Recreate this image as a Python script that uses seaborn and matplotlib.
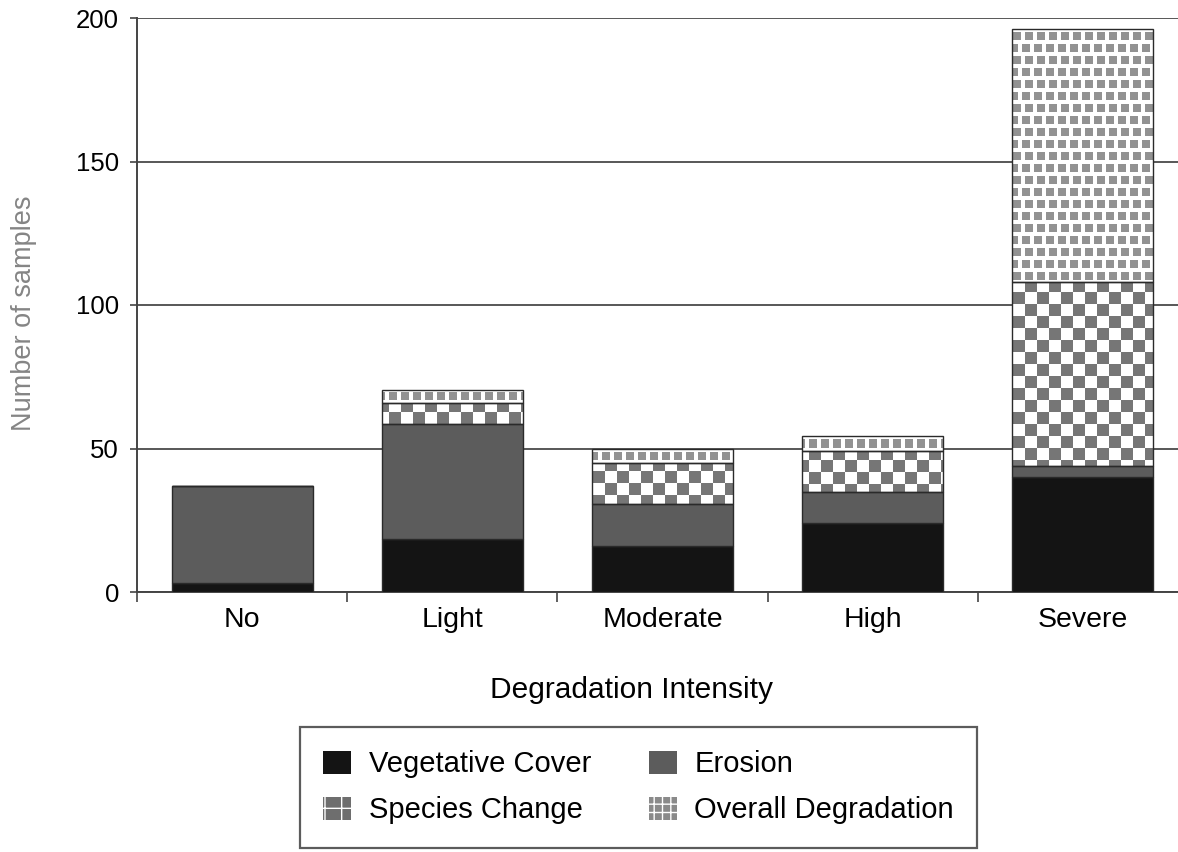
import numpy as np
import pandas as pd
import matplotlib
matplotlib.use("Agg")
import matplotlib.pyplot as plt
import seaborn as sns
from matplotlib.patches import Patch
from matplotlib.ticker import FixedLocator

# ---- data ----
categories = ["No", "Light", "Moderate", "High", "Severe"]
vegetative_cover = [3, 18.5, 16, 24, 40]
erosion = [34, 40, 14.5, 11, 4]
species_change = [0, 7.5, 14.5, 14, 64]
overall_degradation = [0, 4.5, 5, 5.5, 88]
series_names = ["Vegetative Cover", "Erosion", "Species Change", "Overall Degradation"]
y_ticks = [0, 50, 100, 150, 200]

sns.set_theme(style="white")
plt.rcParams["font.family"] = ["Liberation Sans", "DejaVu Sans"]
plt.rcParams["text.color"] = "black"

W_PX, H_PX = 1178, 852
fig = plt.figure(figsize=(W_PX / 100, H_PX / 100), dpi=100)
ax_l, ax_r, ax_t, ax_b = 137, 1188, 18, 592
ax = fig.add_axes([ax_l / W_PX, 1 - ax_b / H_PX, (ax_r - ax_l) / W_PX, (ax_b - ax_t) / H_PX])

df = pd.DataFrame({"cat": categories,
                   "veg": vegetative_cover, "ero": erosion,
                   "spc": species_change, "ovr": overall_degradation})

cols = ["veg", "ero", "spc", "ovr"]
fills = {"veg": "#141414", "ero": "#5c5c5c", "spc": "none", "ovr": "none"}
bottom = np.zeros(len(categories))
patch_groups = {}
for c in cols:
    n0 = len(ax.patches)
    sns.barplot(data=df, x="cat", y=c, order=categories, bottom=bottom,
                color="#777777", width=0.67, saturation=1, ax=ax,
                edgecolor="#2a2a2a", linewidth=1.0, zorder=3)
    new = ax.patches[n0:]
    for p in new:
        p.set_facecolor(fills[c])
        p.set_zorder(3)
    patch_groups[c] = new
    bottom = bottom + df[c].to_numpy()

ax.set_xlim(-0.5, 4.5)
ax.set_ylim(0, 200)

# ---- texture images (pixel-aligned patterns) clipped to textured bars ----
Hp, Wp = ax_b - ax_t, ax_r - ax_l
yy, xx = np.mgrid[0:Hp, 0:Wp]

def rgb(hexc):
    hexc = hexc.lstrip("#")
    return np.array([int(hexc[i:i + 2], 16) / 255 for i in (0, 2, 4)])

checker = ((xx // 12 + yy // 12) % 2).astype(bool)
spc_img = np.ones((Hp, Wp, 3))
spc_img[checker] = rgb("#767676")

shift = ((yy // 12) % 2) * 3
dots = (((xx + shift) % 12) < 8) & ((yy % 12) < 8)
ovr_img = np.ones((Hp, Wp, 3))
ovr_img[dots] = rgb("#929292")

for key, img in (("spc", spc_img), ("ovr", ovr_img)):
    for p in patch_groups[key]:
        if p.get_height() <= 0:
            continue
        im = ax.imshow(img, extent=(-0.5, 4.5, 0, 200), origin="lower",
                       aspect="auto", interpolation="nearest", zorder=2.5)
        im.set_clip_path(p)

ax.set_xlim(-0.5, 4.5)
ax.set_ylim(0, 200)
ax.set_aspect("auto")

# ---- axes styling ----
ax.set_axisbelow(True)
ax.yaxis.grid(True, color="#4a4a4a", linewidth=1.3)
ax.xaxis.grid(False)
for s in ("top", "right"):
    ax.spines[s].set_visible(False)
for s in ("left", "bottom"):
    ax.spines[s].set_color("#444444")
    ax.spines[s].set_linewidth(1.4)

ax.set_yticks(y_ticks)
ax.set_yticklabels([str(v) for v in y_ticks])
ax.tick_params(axis="y", which="major", length=5, width=1.2, color="#444444",
               direction="out", left=True, labelsize=18.5, pad=8, labelcolor="black")
ax.set_xticks(range(len(categories)))
ax.set_xticklabels(categories)
ax.tick_params(axis="x", which="major", length=0, labelsize=20.5, pad=11, labelcolor="black")
ax.xaxis.set_minor_locator(FixedLocator([-0.5, 0.5, 1.5, 2.5, 3.5, 4.5]))
ax.tick_params(axis="x", which="minor", length=7, width=1.2, color="#444444",
               direction="out", bottom=True)

ax.set_xlabel("")
ax.set_ylabel("")
fig.text(24 / W_PX, 1 - 313 / H_PX, "Number of samples", rotation=90,
         ha="center", va="center", fontsize=19.5, color="#858585")
fig.text(631 / W_PX, 1 - 690 / H_PX, "Degradation Intensity",
         ha="center", va="center", fontsize=21.5, color="black")

# ---- legend (row-major order like the reference) ----
h_veg = Patch(facecolor="#141414", edgecolor="#141414", linewidth=0)
h_ero = Patch(facecolor="#5c5c5c", edgecolor="#5c5c5c", linewidth=0)
h_spc = Patch(facecolor="#6e6e6e", edgecolor="white", hatch="+", linewidth=0)
h_ovr = Patch(facecolor="#8a8a8a", edgecolor="white", hatch="++", linewidth=0)
handles = [h_veg, h_spc, h_ero, h_ovr]
labels = [series_names[0], series_names[2], series_names[1], series_names[3]]
leg = fig.legend(handles, labels, ncol=2, loc="upper left",
                 bbox_to_anchor=(300 / W_PX, 1 - 727 / H_PX),
                 frameon=True, fancybox=False, fontsize=21,
                 handlelength=0.95, handleheight=0.85, handletextpad=0.6,
                 columnspacing=2.0, labelspacing=0.62, borderpad=0.8,
                 borderaxespad=0, labelcolor="black")
frame = leg.get_frame()
frame.set_edgecolor("#333333")
frame.set_linewidth(1.6)
frame.set_facecolor("white")

fig.savefig("out.png", dpi=100)
